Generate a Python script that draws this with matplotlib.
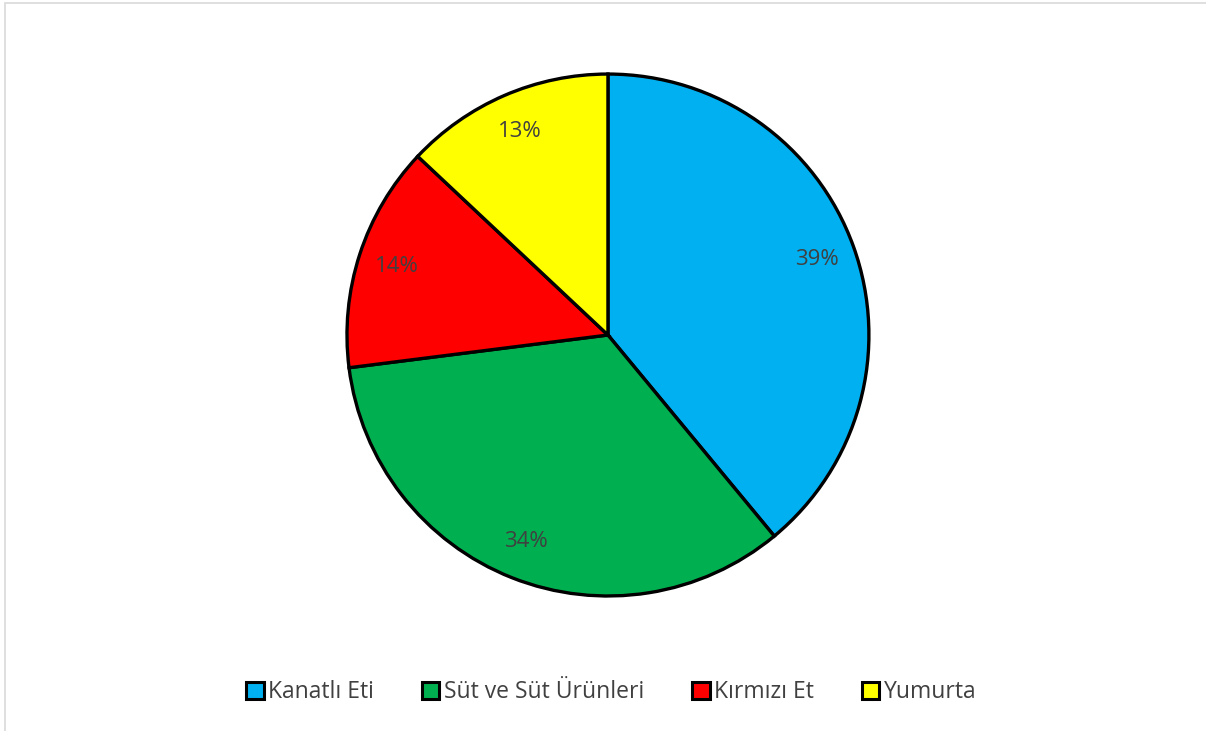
import matplotlib.pyplot as plt
from matplotlib.patches import Rectangle, Patch

labels = ['Kanatlı Eti', 'Süt ve Süt Ürünleri', 'Kırmızı Et', 'Yumurta']
values = [39, 34, 14, 13]
colors = ['#00b0f0', '#00b050', '#ff0000', '#ffff00']

plt.rcParams['font.family'] = ['Open Sans', 'DejaVu Sans']

fig = plt.figure(figsize=(12.06, 7.31), dpi=100)

# light grey chart frame
fig.patches.append(Rectangle((5 / 1206, -0.01), 1.02, 1 - 3 / 731 + 0.01, transform=fig.transFigure,
                             fill=False, edgecolor='#d9d9d9', linewidth=1.2))

ax = fig.add_axes([0.2877, 0.1847, 0.4328, 0.714])
wedges, texts, autotexts = ax.pie(values, colors=colors, startangle=90, counterclock=False,
                                  autopct='%1.0f%%', pctdistance=0.85,
                                  wedgeprops={'edgecolor': 'black', 'linewidth': 2.4},
                                  textprops={'color': '#404040', 'fontsize': 16})
ax.set_xlim(-1.0, 1.0)
ax.set_ylim(-1.0, 1.0)
ax.set_aspect('equal')

handles = [Patch(facecolor=c, edgecolor='black', linewidth=2.2) for c in colors]
fig.legend(handles, labels, loc='center', bbox_to_anchor=(0.507, 0.053), ncol=4, frameon=False,
           fontsize=16.5, handlelength=0.75, handleheight=0.75, handletextpad=0.2,
           columnspacing=2.1, labelcolor='#404040')

fig.savefig('out.png', dpi=100)
